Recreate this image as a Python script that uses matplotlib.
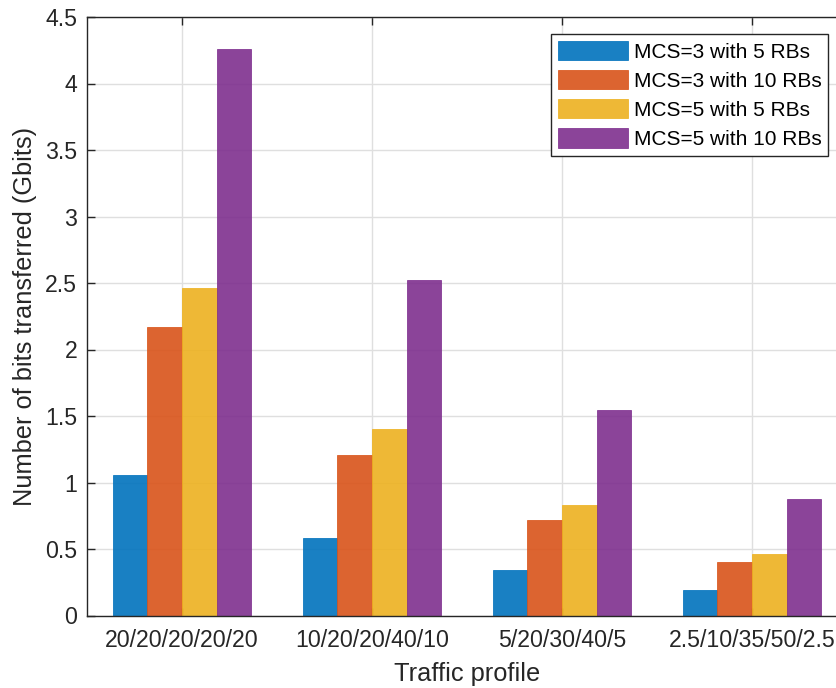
import matplotlib
matplotlib.use("Agg")
import matplotlib.pyplot as plt
import numpy as np

categories = ["20/20/20/20/20", "10/20/20/40/10", "5/20/30/40/5", "2.5/10/35/50/2.5"]
series_names = ["MCS=3 with 5 RBs", "MCS=3 with 10 RBs", "MCS=5 with 5 RBs", "MCS=5 with 10 RBs"]
mcs3_5rb = [1.06, 0.58, 0.34, 0.19]
mcs3_10rb = [2.17, 1.21, 0.715, 0.40]
mcs5_5rb = [2.46, 1.40, 0.833, 0.465]
mcs5_10rb = [4.26, 2.52, 1.545, 0.878]
yticks = [0, 0.5, 1, 1.5, 2, 2.5, 3, 3.5, 4, 4.5]
ytick_labels = ["0", "0.5", "1", "1.5", "2", "2.5", "3", "3.5", "4", "4.5"]

colors = ["#0072BD", "#D95319", "#EDB120", "#7E2F8E"]
axcol = "#262626"

plt.rcParams['font.family'] = ['Liberation Sans', 'DejaVu Sans']

fig = plt.figure(figsize=(8.37, 6.88), dpi=100)
ax = fig.add_axes([87/837, 1 - 615.5/688, 760/837, (615.5 - 17)/688])

x = np.arange(1, len(categories) + 1)
data = [mcs3_5rb, mcs3_10rb, mcs5_5rb, mcs5_10rb]
n = len(data)
groupwidth = min(0.8, n / (n + 1.5))
bw = groupwidth / n
for i, (vals, c, name) in enumerate(zip(data, colors, series_names)):
    offs = -groupwidth / 2 + bw * (i + 0.5)
    ax.bar(x + offs, vals, width=bw, color=c, alpha=0.9, edgecolor=c,
           linewidth=0.6, label=name, zorder=2)

ax.set_xlim(0.5, 4.5)
ax.set_ylim(0, 4.5)
ax.set_xticks(x)
ax.set_xticklabels(categories)
ax.set_yticks(yticks)
ax.set_yticklabels(ytick_labels)

ax.grid(True, color="#DFDFDF", linewidth=1.0, zorder=0)
ax.set_axisbelow(True)

for s in ax.spines.values():
    s.set_color(axcol)
    s.set_linewidth(1.0)
ax.tick_params(axis='both', direction='in', length=6, width=1.0, color=axcol,
               labelcolor=axcol, labelsize=16.7, top=True, right=True)
ax.tick_params(axis='y', pad=7)
ax.tick_params(axis='x', pad=10)

ax.set_xlabel("Traffic profile", fontsize=18.3, color=axcol, labelpad=7)
ax.set_ylabel("Number of bits transferred (Gbits)", fontsize=18.3, color=axcol, labelpad=6)

leg = ax.legend(loc='upper right', bbox_to_anchor=(828/837, 1 - 34/688),
                bbox_transform=fig.transFigure, borderaxespad=0, fontsize=15,
                frameon=True, fancybox=False, handlelength=3.4, handleheight=1.06,
                labelspacing=0.4, handletextpad=0.25, borderpad=0.32)
leg.get_frame().set_edgecolor(axcol)
leg.get_frame().set_linewidth(1.0)
leg.get_frame().set_alpha(1)
for t in leg.get_texts():
    t.set_color("black")

fig.savefig("out.png", dpi=100)
